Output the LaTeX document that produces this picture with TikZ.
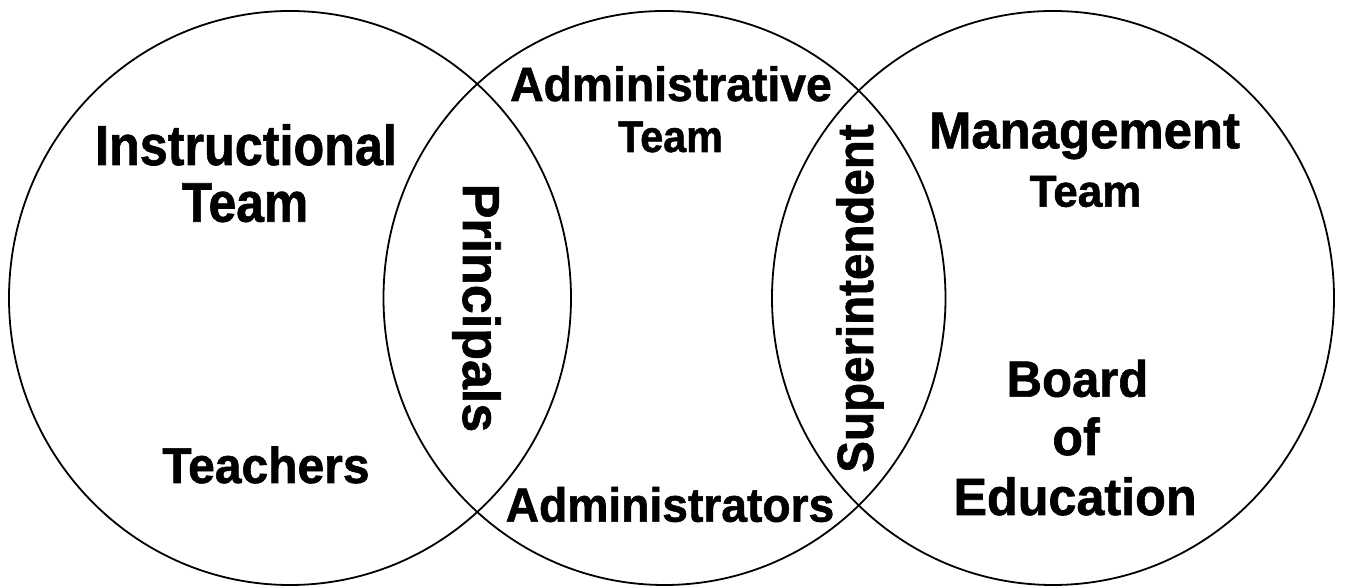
\documentclass[tikz,border=0pt]{standalone}
\usepackage{fontspec}
\setmainfont{Liberation Sans}[BoldFeatures={FakeBold=1.2}]
\newcommand{\fsz}[1]{\fontsize{#1pt}{#1pt}\selectfont\bfseries}
\begin{document}
\begin{tikzpicture}[x=1pt,y=1pt,
  ring/.style={draw=black, line width=1.8pt},
  lbl/.style={inner sep=0pt, anchor=base, text=black}]
\useasboundingbox (0,0) rectangle (1345,588);
\fill[white] (0,0) rectangle (1345,588);
% three overlapping circles
\draw[ring] (290,290) ellipse [x radius=281, y radius=287];
\draw[ring] (664.5,290) ellipse [x radius=281, y radius=287];
\draw[ring] (1053,290) ellipse [x radius=281, y radius=287];
% left circle
\node[lbl] (instr) at (246,423) {\fsz{50.3}\scalebox{1}[1.12]{Instructional}};
\node[lbl] (instrteam) at (245,366.3) {\fsz{49.8}\scalebox{1}[1.12]{Team}};
\node[lbl] (teachers) at (266,105) {\fsz{48}\scalebox{1}[1.05]{Teachers}};
% left lens
\node[lbl, rotate=-90] (principals) at (463,280) {\fsz{52}Principals};
% middle circle
\node[lbl] (admin) at (671,487) {\fsz{46.3}\scalebox{1}[1.04]{Administrative}};
\node[lbl] (adminteam) at (670.5,436) {\fsz{41.3}\scalebox{1}[1.08]{Team}};
\node[lbl] (admins) at (670,66.3) {\fsz{46.2}\scalebox{1}[1.04]{Administrators}};
% right lens
\node[lbl, rotate=90] (supt) at (873,289.5) {\fsz{47.5}\scalebox{1}[1.07]{Superintendent}};
% right circle
\node[lbl] (mgmt) at (1084.5,439.7) {\fsz{50.9}\scalebox{1}[1.02]{Management}};
\node[lbl] (mgmtteam) at (1085.5,381.3) {\fsz{44}\scalebox{1}[1.02]{Team}};
\node[lbl] (board) at (1077.5,191.3) {\fsz{49}\scalebox{1}[1.04]{Board}};
\node[lbl] (of) at (1076,133) {\fsz{50}\scalebox{1}[1.04]{of}};
\node[lbl] (edu) at (1075,73) {\fsz{50.3}\scalebox{1}[1.04]{Education}};
\end{tikzpicture}
\end{document}
